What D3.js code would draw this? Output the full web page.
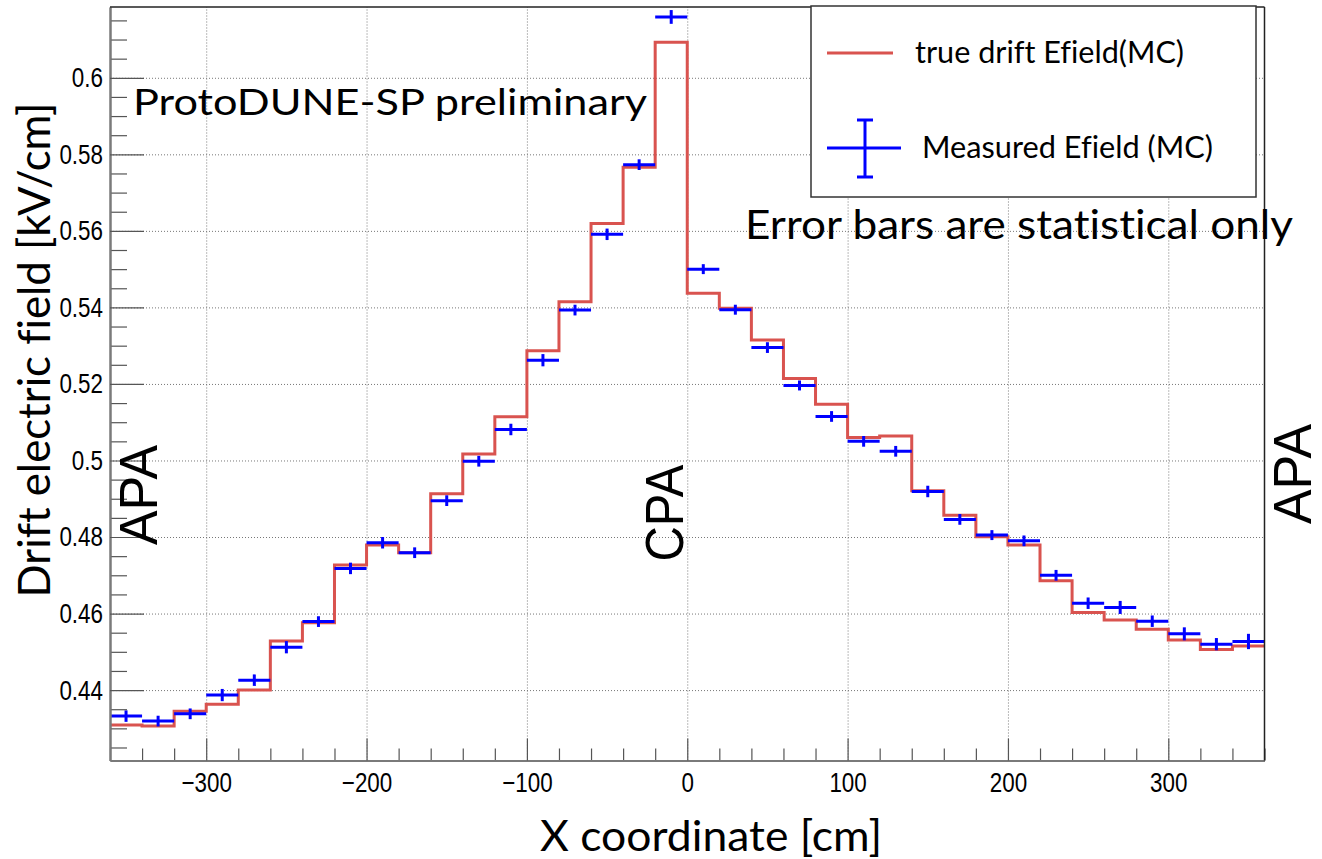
<!DOCTYPE html>
<html>
<head>
<meta charset="utf-8">
<script src="https://cdn.jsdelivr.net/npm/d3@7"></script>
<style>
  body { margin: 0; background: #fff; }
  svg { display: block; }
  text { font-variant-ligatures: none; font-feature-settings: "liga" 0; }
</style>
</head>
<body>
<svg id="chart" width="1322" height="859"></svg>
<script>
// bin low edges [cm], 20 cm wide
var binLo = [-360, -340, -320, -300, -280, -260, -240, -220, -200, -180, -160, -140,
             -120, -100, -80, -60, -40, -20, 0, 20, 40, 60, 80, 100,
             120, 140, 160, 180, 200, 220, 240, 260, 280, 300, 320, 340];
var binWidth = 20;

// true drift Efield (MC) [kV/cm]
var trueField = [0.4309, 0.4306, 0.4345, 0.4363, 0.4400, 0.4528, 0.4576, 0.4727, 0.4779, 0.4759, 0.4913, 0.5017,
                 0.5114, 0.5287, 0.5415, 0.5619, 0.5766, 0.6093, 0.5437, 0.5398, 0.5315, 0.5214, 0.5147, 0.5060,
                 0.5064, 0.4921, 0.4857, 0.4801, 0.4779, 0.4686, 0.4603, 0.4583, 0.4559, 0.4531, 0.4506, 0.4515];

// measured Efield (MC) and its statistical error
var measField = [0.4332, 0.4319, 0.4338, 0.4387, 0.4426, 0.4512, 0.4579, 0.4718, 0.4785, 0.4759, 0.4895, 0.4998,
                 0.5081, 0.5262, 0.5393, 0.5591, 0.5773, 0.6159, 0.5500, 0.5394, 0.5295, 0.5196, 0.5115, 0.5050,
                 0.5024, 0.4919, 0.4846, 0.4805, 0.4790, 0.4700, 0.4627, 0.4616, 0.4580, 0.4547, 0.4520, 0.4527];
var measErr = [0.0015, 0.0014, 0.0014, 0.0016, 0.0015, 0.0016, 0.0014, 0.0015, 0.0015, 0.0014, 0.0014, 0.0014,
               0.0015, 0.0016, 0.0014, 0.0015, 0.0014, 0.0018, 0.0013, 0.0013, 0.0014, 0.0013, 0.0014, 0.0014,
               0.0014, 0.0015, 0.0014, 0.0013, 0.0014, 0.0014, 0.0015, 0.0017, 0.0015, 0.0017, 0.0016, 0.0020];

var xMajor = [-300, -200, -100, 0, 100, 200, 300];
var xMinor = [-360, -340, -320, -280, -260, -240, -220, -180, -160, -140, -120, -80, -60, -40, -20,
              20, 40, 60, 80, 120, 140, 160, 180, 220, 240, 260, 280, 320, 340, 360];
var yMajor = [0.44, 0.46, 0.48, 0.50, 0.52, 0.54, 0.56, 0.58, 0.60];
var yMinor = [0.425, 0.43, 0.435, 0.445, 0.45, 0.455, 0.465, 0.47, 0.475, 0.485, 0.49, 0.495,
              0.505, 0.51, 0.515, 0.525, 0.53, 0.535, 0.545, 0.55, 0.555, 0.565, 0.57, 0.575,
              0.585, 0.59, 0.595, 0.605, 0.61, 0.615];

var legendLabels = ["true drift Efield(MC)", "Measured Efield (MC)"];

var svg = d3.select("#chart");
var mLeft = 110, mRight = 1264.5, mTop = 7, mBottom = 760.5;
var W = mRight - mLeft, H = mBottom - mTop;

var x = d3.scaleLinear().domain([-360, 360]).range([0, W]);
var y = d3.scaleLinear().domain([0.4216, 0.6185]).range([H, 0]);

var red = "#d9534f", blue = "#0000ff";
var calibri = "Lato, 'Open Sans', sans-serif";
var helv = "'Liberation Sans', Arial, sans-serif";

var g = svg.append("g").attr("transform", "translate(" + mLeft + "," + mTop + ")");

// grid
var gx = g.append("g").attr("transform", "translate(0," + H + ")")
  .call(d3.axisBottom(x).tickValues(xMajor).tickSize(-H).tickFormat(""));
var gy = g.append("g")
  .call(d3.axisLeft(y).tickValues(yMajor).tickSize(-W).tickFormat(""));
[gx, gy].forEach(function (a) {
  a.select(".domain").remove();
  a.selectAll("line").attr("stroke", "#777").attr("stroke-width", 1).attr("stroke-dasharray", "1,2");
});

// true field histogram (step line)
var steps = binLo.map(function (b, i) { return [b, trueField[i]]; });
steps.push([binLo[binLo.length - 1] + binWidth, trueField[trueField.length - 1]]);
var stepLine = d3.line()
  .x(function (d) { return x(d[0]); })
  .y(function (d) { return y(d[1]); })
  .curve(d3.curveStepAfter);
g.append("path").datum(steps)
  .attr("d", stepLine)
  .attr("fill", "none")
  .attr("stroke", red)
  .attr("stroke-width", 3);

// measured points with error bars
var pts = g.append("g").selectAll("g").data(binLo).enter().append("g");
pts.append("line")
  .attr("x1", function (d) { return x(d); })
  .attr("x2", function (d) { return x(d + binWidth); })
  .attr("y1", function (d, i) { return y(measField[i]); })
  .attr("y2", function (d, i) { return y(measField[i]); })
  .attr("stroke", blue).attr("stroke-width", 3);
pts.append("line")
  .attr("x1", function (d) { return x(d + binWidth / 2); })
  .attr("x2", function (d) { return x(d + binWidth / 2); })
  .attr("y1", function (d, i) { return y(measField[i] - measErr[i]); })
  .attr("y2", function (d, i) { return y(measField[i] + measErr[i]); })
  .attr("stroke", blue).attr("stroke-width", 3);

// axes: minor then major ticks, pointing into the frame
var xMin = g.append("g").attr("transform", "translate(0," + H + ")")
  .call(d3.axisBottom(x).tickValues(xMinor).tickSize(-12).tickSizeOuter(0).tickFormat(""));
var xMaj = g.append("g").attr("transform", "translate(0," + H + ")")
  .call(d3.axisBottom(x).tickValues(xMajor).tickSize(-22).tickSizeOuter(0).tickPadding(12)
    .tickFormat(d3.format("d")));
var yMin = g.append("g")
  .call(d3.axisLeft(y).tickValues(yMinor).tickSize(-17).tickSizeOuter(0).tickFormat(""));
var yMaj = g.append("g")
  .call(d3.axisLeft(y).tickValues(yMajor).tickSize(-34).tickSizeOuter(0).tickPadding(7)
    .tickFormat(function (d) { return String(+d.toFixed(2)); }));

[xMin, xMaj, yMin, yMaj].forEach(function (a) {
  a.select(".domain").attr("stroke", "#7a7a7a").attr("stroke-width", 2);
  a.selectAll(".tick line").attr("stroke", "#555").attr("stroke-width", 1.2);
});
[xMaj, yMaj].forEach(function (a) {
  a.selectAll("text").attr("fill", "#000").style("font-family", helv).style("font-size", "28px");
  a.selectAll("text").each(function () {
    var len = this.getComputedTextLength();
    d3.select(this).attr("textLength", len * 0.8).attr("lengthAdjust", "spacingAndGlyphs");
  });
});

// frame top / right
g.append("line").attr("x1", 0).attr("x2", W).attr("y1", 0).attr("y2", 0)
  .attr("stroke", "#222").attr("stroke-width", 1.5);
g.append("line").attr("x1", W).attr("x2", W).attr("y1", 0).attr("y2", H)
  .attr("stroke", "#222").attr("stroke-width", 1.5);

// axis titles
svg.append("text")
  .attr("transform", "translate(50,350) rotate(-90)")
  .attr("text-anchor", "middle")
  .style("font-family", calibri).style("font-size", "45px")
  .attr("textLength", 495).attr("lengthAdjust", "spacingAndGlyphs")
  .text("Drift electric field [kV/cm]");
svg.append("text")
  .attr("x", 540).attr("y", 851)
  .style("font-family", calibri).style("font-size", "42px")
  .attr("textLength", 342).attr("lengthAdjust", "spacingAndGlyphs")
  .text("X coordinate [cm]");

// annotations
svg.append("text")
  .attr("x", 133).attr("y", 115)
  .style("font-family", calibri).style("font-size", "37px")
  .attr("textLength", 514).attr("lengthAdjust", "spacingAndGlyphs")
  .text("ProtoDUNE-SP preliminary");
svg.append("text")
  .attr("x", 745).attr("y", 239)
  .style("font-family", calibri).style("font-size", "40px")
  .attr("textLength", 548).attr("lengthAdjust", "spacingAndGlyphs")
  .text("Error bars are statistical only");

var tags = [["APA", 157, 495, 100], ["CPA", 683, 513, 97], ["APA", 1311, 474, 100]];
tags.forEach(function (t) {
  svg.append("text")
    .attr("transform", "translate(" + t[1] + "," + t[2] + ") rotate(-90)")
    .attr("text-anchor", "middle")
    .style("font-family", helv).style("font-size", "54px")
    .attr("textLength", t[3]).attr("lengthAdjust", "spacingAndGlyphs")
    .text(t[0]);
});

// legend
var lg = svg.append("g");
lg.append("rect").attr("x", 811).attr("y", 6).attr("width", 445).attr("height", 191)
  .attr("fill", "#fff").attr("stroke", "#333").attr("stroke-width", 1.5);
lg.append("line").attr("x1", 827).attr("x2", 893).attr("y1", 53).attr("y2", 53)
  .attr("stroke", red).attr("stroke-width", 3);
lg.append("text").attr("x", 915).attr("y", 63)
  .style("font-family", calibri).style("font-size", "30px")
  .attr("textLength", 269).attr("lengthAdjust", "spacingAndGlyphs")
  .text(legendLabels[0]);
lg.append("line").attr("x1", 827).attr("x2", 901).attr("y1", 148).attr("y2", 148)
  .attr("stroke", blue).attr("stroke-width", 3);
lg.append("line").attr("x1", 865).attr("x2", 865).attr("y1", 120).attr("y2", 177)
  .attr("stroke", blue).attr("stroke-width", 3);
[120, 177].forEach(function (yy) {
  lg.append("line").attr("x1", 857).attr("x2", 873).attr("y1", yy).attr("y2", yy)
    .attr("stroke", blue).attr("stroke-width", 3);
});
lg.append("text").attr("x", 922).attr("y", 158)
  .style("font-family", calibri).style("font-size", "30px")
  .attr("textLength", 291).attr("lengthAdjust", "spacingAndGlyphs")
  .text(legendLabels[1]);
</script>
</body>
</html>
